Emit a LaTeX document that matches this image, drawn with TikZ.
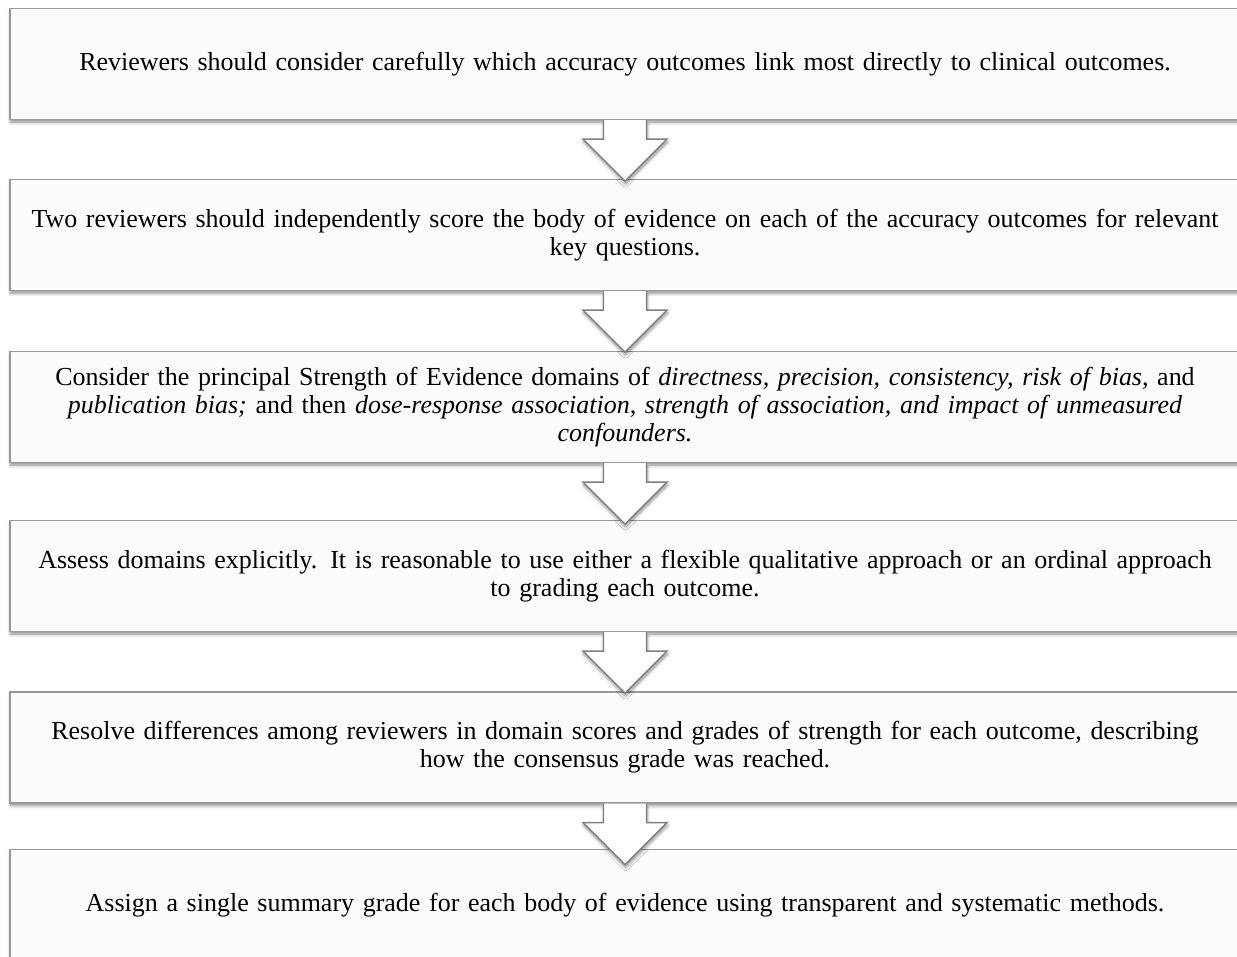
\documentclass[tikz,border=0pt]{standalone}
\usepackage{fontspec}
\setmainfont{Liberation Serif}
\usepackage{tikz}
\usetikzlibrary{calc,shadows.blur}

\begin{document}
\begin{tikzpicture}[x = 0.4831pt, y = -0.4831pt,
    stepbox/.style = {rectangle, line width = 0.7pt, draw = black!40, fill = black!1, inner sep = 0pt,
        minimum width = 594.2pt, minimum height = 53.6pt, text width = 590pt, align = center,
        font = \fontsize{12.55pt}{13.5pt}\selectfont,
        blur shadow = {shadow xshift = 0.3pt, shadow yshift = -1.3pt, shadow blur radius = 1.6pt, shadow blur steps = 6, shadow opacity = 45}},
    chevron/.style = {line width = 0.7pt, draw = black!50, fill = white, line join = miter,
        blur shadow = {shadow xshift = 0.3pt, shadow yshift = -1.3pt, shadow blur radius = 1.6pt, shadow blur steps = 6, shadow opacity = 45}}]

    \useasboundingbox (0, 0) rectangle (1237, 957);
    \clip (0, 0) rectangle (1237, 957);

    \node[stepbox] (s1) at (625, 64) {Reviewers should consider carefully which accuracy outcomes link most directly to clinical outcomes.};
    \node[stepbox] (s2) at (625, 235) {Two reviewers should independently score the body of evidence on each of the accuracy outcomes for relevant\\ key questions.};
    \node[stepbox] (s3) at (625, 407) {Consider the principal Strength of Evidence domains of \textit{directness, precision, consistency, risk of bias,} and\\ \textit{publication bias;} and then \textit{dose-response association, strength of association, and impact of unmeasured}\\ \textit{confounders.}};
    \node[stepbox] (s4) at (625, 576) {Assess domains explicitly. It is reasonable to use either a flexible qualitative approach or an ordinal approach\\ to grading each outcome.};
    \node[stepbox] (s5) at (625, 747.5) {Resolve differences among reviewers in domain scores and grades of strength for each outcome, describing\\ how the consensus grade was reached.};
    \node[stepbox] (s6) at (625, 905) {Assign a single summary grade for each body of evidence using transparent and systematic methods.};

    \draw[chevron] ($(s1.south) + (-21.5, 0)$) -- ++(0, 19) -- ++(-20.5, 0) -- ++(42, 42) -- ++(42, -42) -- ++(-20.5, 0) -- ++(0, -19);
    \draw[chevron] ($(s2.south) + (-21.5, 0)$) -- ++(0, 19) -- ++(-20.5, 0) -- ++(42, 42) -- ++(42, -42) -- ++(-20.5, 0) -- ++(0, -19);
    \draw[chevron] ($(s3.south) + (-21.5, 0)$) -- ++(0, 19) -- ++(-20.5, 0) -- ++(42, 42) -- ++(42, -42) -- ++(-20.5, 0) -- ++(0, -19);
    \draw[chevron] ($(s4.south) + (-21.5, 0)$) -- ++(0, 19) -- ++(-20.5, 0) -- ++(42, 42) -- ++(42, -42) -- ++(-20.5, 0) -- ++(0, -19);
    \draw[chevron] ($(s5.south) + (-21.5, 0)$) -- ++(0, 19) -- ++(-20.5, 0) -- ++(42, 42) -- ++(42, -42) -- ++(-20.5, 0) -- ++(0, -19);

\end{tikzpicture}
\end{document}
